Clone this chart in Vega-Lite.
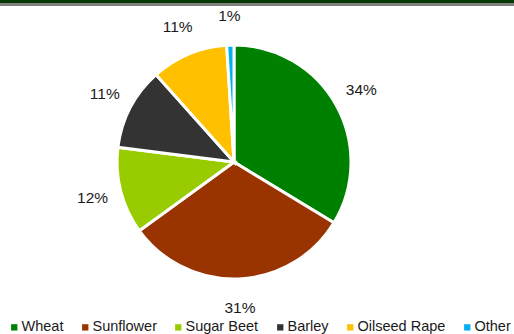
{
  "$schema": "https://vega.github.io/schema/vega-lite/v6.json",
  "padding": 0,
  "spacing": 0,
  "config": {"view": {"stroke": null}, "font": "Liberation Sans"},
  "resolve": {"scale": {"color": "independent"}, "legend": {"color": "independent"}},
  "vconcat": [
    {
      "width": 514,
      "height": 6,
      "data": {"values": [{"part": "band"}, {"part": "rule"}]},
      "mark": "rect",
      "encoding": {
        "y": {"field": "part", "type": "nominal", "axis": null, "scale": {"paddingInner": 0, "paddingOuter": 0}},
        "color": {"field": "part", "type": "nominal", "legend": null, "scale": {"domain": ["band", "rule"], "range": ["#063806", "#808080"]}}
      }
    },
    {
      "width": 468,
      "height": 312,
      "data": {
        "values": [
          {"crop": "Wheat", "rank": 1, "share": 0.337},
          {"crop": "Sunflower", "rank": 2, "share": 0.313},
          {"crop": "Sugar Beet", "rank": 3, "share": 0.12},
          {"crop": "Barley", "rank": 4, "share": 0.114},
          {"crop": "Oilseed Rape", "rank": 5, "share": 0.106},
          {"crop": "Other", "rank": 6, "share": 0.01}
        ]
      },
      "encoding": {
        "theta": {"field": "share", "type": "quantitative", "stack": true},
        "order": {"field": "rank", "type": "quantitative"}
      },
      "layer": [
        {
          "mark": {"type": "arc", "outerRadius": 117, "stroke": "white", "strokeWidth": 3},
          "encoding": {
            "color": {
              "field": "crop",
              "type": "nominal",
              "sort": ["Wheat", "Sunflower", "Sugar Beet", "Barley", "Oilseed Rape", "Other"],
              "scale": {
                "domain": ["Wheat", "Sunflower", "Sugar Beet", "Barley", "Oilseed Rape", "Other"],
                "range": ["#008000", "#993300", "#99CC00", "#333333", "#FFC000", "#00B0F0"]
              },
              "legend": {
                "title": null,
                "orient": "none",
                "direction": "horizontal",
                "legendX": 7,
                "legendY": 314,
                "padding": 0,
                "symbolType": "square",
                "symbolSize": 40,
                "symbolStrokeWidth": 0,
                "labelFontSize": 14.5,
                "labelFont": "Liberation Sans",
                "labelColor": "#1a1a1a",
                "labelOffset": 0,
                "columnPadding": 14
              }
            }
          }
        },
        {
          "mark": {"type": "text", "radius": 146, "fontSize": 15.5, "align": "center", "baseline": "middle"},
          "encoding": {
            "detail": {"field": "crop", "type": "nominal"},
            "color": {"value": "#1a1a1a"},
            "text": {"field": "share", "type": "quantitative", "format": ".0%"}
          }
        }
      ]
    }
  ]
}
